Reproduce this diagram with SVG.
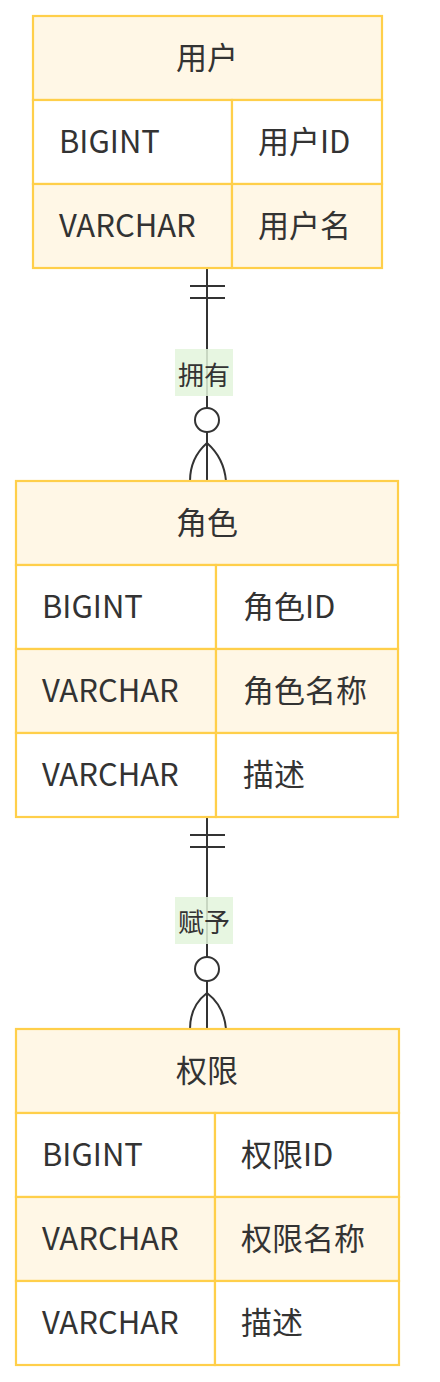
<svg xmlns="http://www.w3.org/2000/svg" width="440" height="1382" viewBox="0 0 440 1382">
<style>
.box{stroke:#FFCF4A;stroke-width:2.2}
.hd{fill:#FFF7E6}
.odd{fill:#FFFFFF}
.even{fill:#FFF7E6}
.t{font-family:"Noto Sans CJK SC","Noto Sans",sans-serif;font-size:31px;fill:#333333;dominant-baseline:central}
.c{text-anchor:middle}
.ln{stroke:#333333;stroke-width:2;fill:none}
.lb{fill:#E3F5DC;opacity:0.85}
.lt{font-family:"Noto Sans CJK SC","Noto Sans",sans-serif;font-size:26px;fill:#333333;text-anchor:middle;dominant-baseline:central}
</style>
<rect width="440" height="1382" fill="#FFFFFF"/>
<g id="connectors">
  <g id="edge-user-role">
    <line class="ln" x1="207" y1="268" x2="207" y2="481"/>
    <line class="ln" x1="190" y1="286" x2="225" y2="286"/>
    <line class="ln" x1="190" y1="298" x2="225" y2="298"/>
    <circle cx="207" cy="420" r="12" fill="#FFFFFF" stroke="#333333" stroke-width="2"/>
    <path class="ln" d="M190,481 Q190,458 207,443 Q224,458 226,481"/>
    <rect class="lb" x="175" y="349" width="58" height="47"/>
    <text class="lt" x="204" y="373">拥有</text>
  </g>
  <g id="edge-role-perm">
    <line class="ln" x1="207" y1="817" x2="207" y2="1029"/>
    <line class="ln" x1="190" y1="835" x2="225" y2="835"/>
    <line class="ln" x1="190" y1="847" x2="225" y2="847"/>
    <circle cx="207" cy="969" r="12" fill="#FFFFFF" stroke="#333333" stroke-width="2"/>
    <path class="ln" d="M190,1029 Q190,1006 207,993 Q224,1006 226,1029"/>
    <rect class="lb" x="175" y="897" width="58" height="47"/>
    <text class="lt" x="204" y="920">赋予</text>
  </g>
</g>
<g id="user">
  <rect class="box hd" x="33" y="16" width="349" height="84"/>
  <text class="t c" x="207" y="55">用户</text>
  <rect class="box odd" x="33" y="100" width="199" height="84"/>
  <rect class="box odd" x="232" y="100" width="150" height="84"/>
  <text class="t" x="59" y="139">BIGINT</text>
  <text class="t" x="258" y="139">用户ID</text>
  <rect class="box even" x="33" y="184" width="199" height="84"/>
  <rect class="box even" x="232" y="184" width="150" height="84"/>
  <text class="t" x="59" y="223">VARCHAR</text>
  <text class="t" x="258" y="223">用户名</text>
</g>
<g id="role">
  <rect class="box hd" x="16" y="481" width="382" height="84"/>
  <text class="t c" x="207" y="520">角色</text>
  <rect class="box odd" x="16" y="565" width="200" height="84"/>
  <rect class="box odd" x="216" y="565" width="182" height="84"/>
  <text class="t" x="42" y="604">BIGINT</text>
  <text class="t" x="243" y="604">角色ID</text>
  <rect class="box even" x="16" y="649" width="200" height="84"/>
  <rect class="box even" x="216" y="649" width="182" height="84"/>
  <text class="t" x="42" y="688">VARCHAR</text>
  <text class="t" x="243" y="688">角色名称</text>
  <rect class="box odd" x="16" y="733" width="200" height="84"/>
  <rect class="box odd" x="216" y="733" width="182" height="84"/>
  <text class="t" x="42" y="772">VARCHAR</text>
  <text class="t" x="243" y="772">描述</text>
</g>
<g id="permission">
  <rect class="box hd" x="16" y="1029" width="383" height="84"/>
  <text class="t c" x="207" y="1068">权限</text>
  <rect class="box odd" x="16" y="1113" width="199" height="84"/>
  <rect class="box odd" x="215" y="1113" width="184" height="84"/>
  <text class="t" x="42" y="1152">BIGINT</text>
  <text class="t" x="241" y="1152">权限ID</text>
  <rect class="box even" x="16" y="1197" width="199" height="84"/>
  <rect class="box even" x="215" y="1197" width="184" height="84"/>
  <text class="t" x="42" y="1236">VARCHAR</text>
  <text class="t" x="241" y="1236">权限名称</text>
  <rect class="box odd" x="16" y="1281" width="199" height="84"/>
  <rect class="box odd" x="215" y="1281" width="184" height="84"/>
  <text class="t" x="42" y="1320">VARCHAR</text>
  <text class="t" x="241" y="1320">描述</text>
</g>
</svg>
